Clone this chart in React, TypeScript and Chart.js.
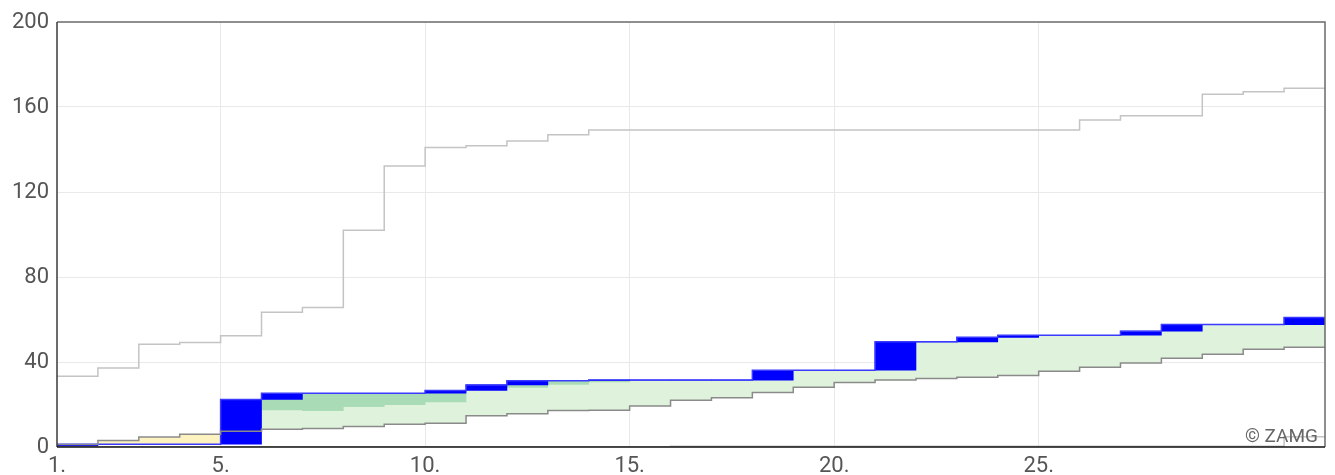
import React, { useEffect, useRef } from 'react';
import { Chart, registerables } from 'chart.js';

Chart.register(...registerables);

// Days of the month (each day occupies [d, d+1] on the x axis)
const days = [1, 2, 3, 4, 5, 6, 7, 8, 9, 10, 11, 12, 13, 14, 15, 16, 17, 18, 19, 20, 21, 22, 23, 24, 25, 26, 27, 28, 29, 30, 31];
const xTickValues = [1, 5, 10, 15, 20, 25];
const yTickValues = [0, 40, 80, 120, 160, 200];

// Cumulative measured precipitation (mm)
const actualCum = [1.3, 1.3, 1.3, 1.3, 22.4, 25.3, 25.3, 25.3, 25.3, 26.6, 29.2, 31.2, 31.2, 31.5, 31.5, 31.5, 31.5, 36.1, 36.1, 36.1, 49.5, 49.5, 51.6, 52.6, 52.6, 52.6, 54.5, 57.6, 57.6, 57.6, 60.9];
// Cumulative normal precipitation (mm)
const normalCum = [1.2, 3.1, 4.7, 6.0, 7.4, 8.3, 8.7, 9.7, 10.7, 11.2, 14.7, 15.6, 17.2, 17.3, 19.3, 22.0, 23.2, 25.6, 28.1, 30.4, 31.5, 32.2, 32.8, 33.7, 35.6, 37.5, 39.5, 41.8, 43.6, 46.0, 46.9];
// Upper limit of the normal range (dark green above it)
const upperCum = [2.4, 6.2, 9.4, 12.0, 14.8, 17.4, 17.1, 19.0, 19.9, 21.2, 29.5, 28.0, 29.5, 30.6, 33.5, 36.0, 39.0, 42.0, 46.0, 50.0, 52.0, 54.0, 56.0, 58.0, 61.0, 64.0, 67.0, 70.0, 73.0, 76.0, 78.0];
// Historic maximum cumulative precipitation (mm)
const maxCum = [33.3, 37.2, 48.3, 49.2, 52.4, 63.4, 65.7, 102.0, 132.2, 141.0, 141.8, 144.0, 147.0, 149.2, 149.2, 149.2, 149.2, 149.2, 149.2, 149.2, 149.2, 149.2, 149.2, 149.2, 149.2, 153.9, 155.9, 155.9, 166.0, 167.2, 168.8];
// Historic minimum cumulative precipitation (mm)
const minCum = [0, 0, 0, 0, 0, 0, 0, 0, 0, 0, 0, 0, 0, 0, 0, 0.4, 0.4, 0.4, 0.4, 0.4, 0.4, 0.4, 0.4, 0.4, 0.4, 0.4, 0.4, 0.4, 0.4, 0.4, 4.8];

const steps = (arr: number[]) =>
  arr.map((v, i) => ({ x: days[i], y: v })).concat([{ x: days[days.length - 1] + 1, y: arr[arr.length - 1] }]);

// daily precipitation boxes: from previous day's total to this day's total
const dailyBars = days.map((d, i) => ({ x: d + 0.5, y: [i === 0 ? 0 : actualCum[i - 1], actualCum[i]] }));
// dark green: part of the total above the upper normal limit
const darkBars = days
  .map((d, i) => (actualCum[i] > upperCum[i] ? { x: d + 0.5, y: [upperCum[i], actualCum[i]] } : null))
  .filter((p) => p !== null);

const FONT = 'Roboto, "DejaVu Sans", sans-serif';

const framePlugin = {
  id: 'frame',
  afterDraw(chart: any) {
    const { ctx, chartArea } = chart;
    const { left, top, right, bottom } = chartArea;
    ctx.save();
    ctx.lineWidth = 1.5;
    ctx.strokeStyle = '#6a6a6a';
    ctx.beginPath();
    ctx.moveTo(left, top);
    ctx.lineTo(right, top);
    ctx.lineTo(right, bottom);
    ctx.stroke();
    ctx.strokeStyle = '#3a3a3a';
    ctx.beginPath();
    ctx.moveTo(left, top);
    ctx.lineTo(left, bottom);
    ctx.stroke();
    ctx.strokeStyle = '#111';
    ctx.beginPath();
    ctx.moveTo(left, bottom);
    ctx.lineTo(right, bottom);
    ctx.stroke();
    ctx.font = '19px ' + FONT;
    ctx.fillStyle = '#666';
    ctx.textAlign = 'right';
    ctx.textBaseline = 'alphabetic';
    ctx.fillText('© ZAMG', right - 7, bottom - 5);
    ctx.restore();
  },
};

export default function App() {
  const ref = useRef<HTMLCanvasElement>(null);

  useEffect(() => {
    document.body.style.margin = '0';
    if (!ref.current) return;
    const lineBase = { pointRadius: 0, stepped: true, tension: 0 };
    const chart = new Chart(ref.current, {
      data: {
        datasets: [
          {
            type: 'line',
            label: 'normal',
            data: steps(normalCum),
            borderColor: '#8a8a8a',
            borderWidth: 1.5,
            fill: false,
            order: 2,
            ...lineBase,
          },
          {
            type: 'line',
            label: 'fillLight',
            data: steps(actualCum),
            borderColor: 'rgba(0,0,0,0)',
            borderWidth: 1,
            fill: { target: 0, above: '#dff2dc', below: '#fdf3c0' },
            order: 19,
            ...lineBase,
          },
          {
            type: 'bar',
            label: 'aboveUpper',
            data: darkBars as any,
            backgroundColor: '#a9dcb6',
            borderWidth: 0,
            barPercentage: 1,
            categoryPercentage: 1,
            grouped: false,
            order: 18,
          },
          {
            type: 'bar',
            label: 'daily',
            data: dailyBars as any,
            backgroundColor: '#0000ff',
            borderWidth: 0,
            barPercentage: 1,
            categoryPercentage: 1,
            grouped: false,
            order: 5,
          },
          {
            type: 'line',
            label: 'actual',
            data: steps(actualCum),
            borderColor: '#3a3aff',
            borderWidth: 1.5,
            fill: false,
            order: 3,
            ...lineBase,
          },
          {
            type: 'line',
            label: 'max',
            data: steps(maxCum),
            borderColor: '#c4c4c4',
            borderWidth: 1.5,
            fill: false,
            order: 4,
            ...lineBase,
          },
          {
            type: 'line',
            label: 'min',
            data: steps(minCum),
            borderColor: '#c4c4c4',
            borderWidth: 1.5,
            fill: false,
            order: 4,
            ...lineBase,
          },
        ] as any,
      },
      options: {
        animation: false,
        responsive: true,
        maintainAspectRatio: false,
        layout: { padding: { top: 22, right: 10, left: 0, bottom: 0 } },
        plugins: {
          legend: { display: false },
          tooltip: { enabled: false },
        },
        scales: {
          x: {
            type: 'linear',
            min: 1,
            max: 32,
            offset: false,
            afterBuildTicks: (scale: any) => {
              scale.ticks = xTickValues.map((v) => ({ value: v }));
            },
            afterFit: (scale: any) => {
              scale.height = 28;
            },
            ticks: {
              autoSkip: false,
              maxRotation: 0,
              padding: 6,
              color: '#555',
              font: { family: FONT, size: 22 },
              callback: (v: any) => v + '.',
            },
            grid: {
              offset: false,
              drawTicks: false,
              color: (c: any) => (c.tick && c.tick.value === 1 ? 'rgba(0,0,0,0)' : '#e9e9e9'),
              lineWidth: 1,
            },
            border: { display: false },
          },
          y: {
            type: 'linear',
            min: 0,
            max: 200,
            afterBuildTicks: (scale: any) => {
              scale.ticks = yTickValues.map((v) => ({ value: v }));
            },
            afterFit: (scale: any) => {
              scale.width = 57;
            },
            ticks: {
              padding: 8,
              color: '#555',
              font: { family: FONT, size: 22 },
            },
            grid: {
              drawTicks: false,
              color: (c: any) =>
                c.tick && (c.tick.value === 0 || c.tick.value === 200) ? 'rgba(0,0,0,0)' : '#e9e9e9',
              lineWidth: 1,
            },
            border: { display: false },
          },
        },
      },
      plugins: [framePlugin],
    } as any);
    return () => chart.destroy();
  }, []);

  return (
    <div style={{ width: 1335, height: 475, position: 'relative' }}>
      <canvas ref={ref} />
    </div>
  );
}
